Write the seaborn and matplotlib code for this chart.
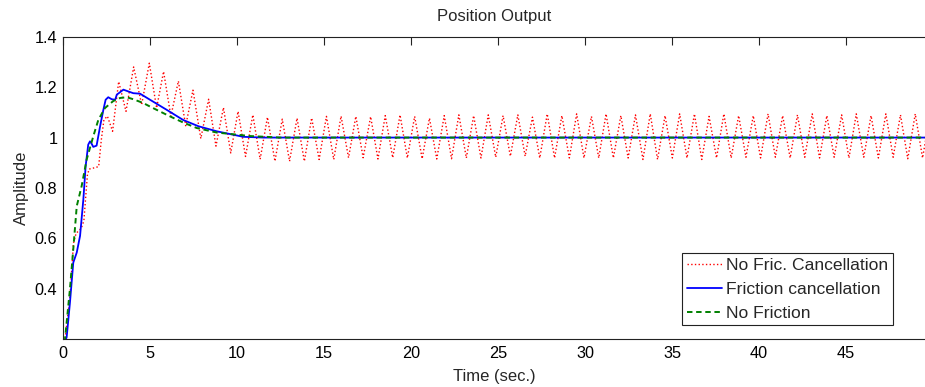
import matplotlib
matplotlib.use("Agg")
import matplotlib.pyplot as plt
from matplotlib.ticker import FormatStrFormatter
import pandas as pd
import seaborn as sns

# Time (s) and amplitude of the uncompensated response (turning points of the ripple)
red_t = [0.10, 0.40, 0.60, 0.75, 1.05, 1.20, 1.40, 1.50, 1.80, 2.05,
         2.20, 2.35, 2.55, 2.85, 3.20, 3.62, 4.06, 4.52, 4.96, 5.38,
         5.78, 6.20, 6.63, 7.05, 7.47, 7.92, 8.37, 8.79, 9.22, 9.64,
         10.06, 10.49, 10.91, 11.33, 11.75, 12.18, 12.60, 13.02, 13.45, 13.87,
         14.29, 14.72, 15.14, 15.56, 15.98, 16.41, 16.83, 17.25, 17.68, 18.10,
         18.52, 18.95, 19.37, 19.79, 20.21, 20.64, 21.06, 21.48, 21.91, 22.33,
         22.75, 23.18, 23.60, 24.02, 24.44, 24.87, 25.29, 25.71, 26.14, 26.56,
         26.98, 27.40, 27.83, 28.25, 28.67, 29.10, 29.52, 29.94, 30.37, 30.79,
         31.21, 31.63, 32.06, 32.48, 32.90, 33.33, 33.75, 34.17, 34.60, 35.02,
         35.44, 35.86, 36.29, 36.71, 37.13, 37.56, 37.98, 38.40, 38.83, 39.25,
         39.67, 40.09, 40.52, 40.94, 41.36, 41.79, 42.21, 42.63, 43.06, 43.48,
         43.90, 44.32, 44.75, 45.17, 45.59, 46.02, 46.44, 46.86, 47.29, 47.71,
         48.13, 48.55, 48.98, 49.40, 49.82]
red_y = [0.19, 0.37, 0.58, 0.62, 0.64, 0.67, 0.85, 0.875, 0.88, 0.885,
         0.99, 1.07, 1.085, 1.025, 1.222, 1.104, 1.280, 1.130, 1.295, 1.117,
         1.262, 1.084, 1.224, 1.047, 1.188, 0.996, 1.152, 0.966, 1.119, 0.939,
         1.104, 0.925, 1.090, 0.914, 1.081, 0.906, 1.073, 0.906, 1.077, 0.906,
         1.078, 0.913, 1.084, 0.913, 1.085, 0.920, 1.084, 0.920, 1.083, 0.915,
         1.087, 0.920, 1.090, 0.919, 1.084, 0.916, 1.077, 0.915, 1.087, 0.916,
         1.090, 0.919, 1.087, 0.919, 1.090, 0.922, 1.087, 0.926, 1.090, 0.926,
         1.081, 0.919, 1.094, 0.919, 1.087, 0.919, 1.094, 0.919, 1.084, 0.919,
         1.094, 0.919, 1.087, 0.919, 1.090, 0.913, 1.094, 0.913, 1.087, 0.919,
         1.094, 0.919, 1.094, 0.913, 1.084, 0.919, 1.094, 0.919, 1.087, 0.922,
         1.087, 0.919, 1.094, 0.922, 1.087, 0.919, 1.090, 0.922, 1.094, 0.919,
         1.087, 0.922, 1.090, 0.919, 1.094, 0.922, 1.087, 0.919, 1.094, 0.922,
         1.090, 0.916, 1.094, 0.919, 1.087]

# Response with friction cancellation
blue_t = [0.10, 0.21, 0.40, 0.59, 0.79, 0.98, 1.17, 1.30, 1.45, 1.55,
          1.65, 1.74, 1.93, 2.13, 2.32, 2.45, 2.60, 2.80, 3.00, 3.09,
          3.47, 3.75, 4.04, 4.43, 5.00, 5.96, 6.90, 7.78, 8.83, 10.36,
          11.50, 49.60]
blue_y = [0.19, 0.208, 0.346, 0.504, 0.544, 0.61, 0.755, 0.886, 0.972, 0.985,
          0.975, 0.963, 0.968, 1.044, 1.11, 1.15, 1.16, 1.152, 1.150, 1.17,
          1.19, 1.183, 1.176, 1.174, 1.15, 1.11, 1.07, 1.045, 1.025, 1.003,
          1.0, 1.0]

# Response of the frictionless plant
green_t = [0.10, 0.40, 0.59, 0.79, 1.07, 1.36, 1.74, 2.03, 2.41, 2.89,
           3.28, 3.66, 4.04, 4.61, 5.00, 5.38, 6.15, 6.90, 7.68, 8.83,
           10.75, 12.50, 49.60]
green_y = [0.19, 0.40, 0.557, 0.728, 0.807, 0.913, 1.005, 1.07, 1.117, 1.145,
           1.157, 1.16, 1.152, 1.137, 1.123, 1.11, 1.084, 1.06, 1.038, 1.02,
           1.006, 1.0, 1.0]

labels = ["No Fric. Cancellation", "Friction cancellation", "No Friction"]
x_ticks = [0, 5, 10, 15, 20, 25, 30, 35, 40, 45]
y_ticks = [0.4, 0.6, 0.8, 1.0, 1.2, 1.4]

sns.set_style("white")
plt.rcParams["font.family"] = ["Liberation Sans", "DejaVu Sans"]

W, H = 925, 387
fig = plt.figure(figsize=(W / 100, H / 100), dpi=100)
ax = fig.add_axes([63 / W, 1 - 339.3 / H, (W - 63) / W, (339.3 - 36.7) / H])

df_red = pd.DataFrame({"t": red_t, "y": red_y})
df_blue = pd.DataFrame({"t": blue_t, "y": blue_y})
df_green = pd.DataFrame({"t": green_t, "y": green_y})

sns.lineplot(data=df_red, x="t", y="y", ax=ax, estimator=None, sort=False,
             color="#ff0000", linewidth=1.0, linestyle=":", label=labels[0])
sns.lineplot(data=df_blue, x="t", y="y", ax=ax, estimator=None, sort=False,
             color="#0000ff", linewidth=1.3, linestyle="-", label=labels[1])
sns.lineplot(data=df_green, x="t", y="y", ax=ax, estimator=None, sort=False,
             color="#008000", linewidth=1.4, linestyle=(0, (2.8, 1.9)),
             label=labels[2])

ax.set_xlim(0, 49.54)
ax.set_ylim(0.2, 1.4)
ax.set_xticks(x_ticks)
ax.set_yticks(y_ticks)
ax.yaxis.set_major_formatter(FormatStrFormatter("%g"))

for side in ("left", "bottom", "top"):
    ax.spines[side].set_color("#222222")
    ax.spines[side].set_linewidth(0.8)
ax.spines["right"].set_visible(False)

ax.tick_params(axis="both", which="major", direction="in", length=6,
               width=0.8, color="#222222", labelsize=11.7, labelcolor="black",
               top=True, right=False)
ax.tick_params(axis="x", pad=5)
ax.tick_params(axis="y", pad=4)

ax.set_xlabel("Time (sec.)", fontsize=12, labelpad=5.5)
ax.set_ylabel("Amplitude", fontsize=12, labelpad=4)
ax.set_title("Position Output", fontsize=12, pad=11)

leg = ax.legend(loc="lower right", bbox_to_anchor=(0.9625, 0.047),
                fontsize=12.6, frameon=True, fancybox=False, framealpha=1,
                edgecolor="#222222", borderpad=0.25, labelspacing=0.5,
                handlelength=2.0, handletextpad=0.25, borderaxespad=0)
leg.get_frame().set_linewidth(0.8)

fig.savefig("out.png", dpi=100)
